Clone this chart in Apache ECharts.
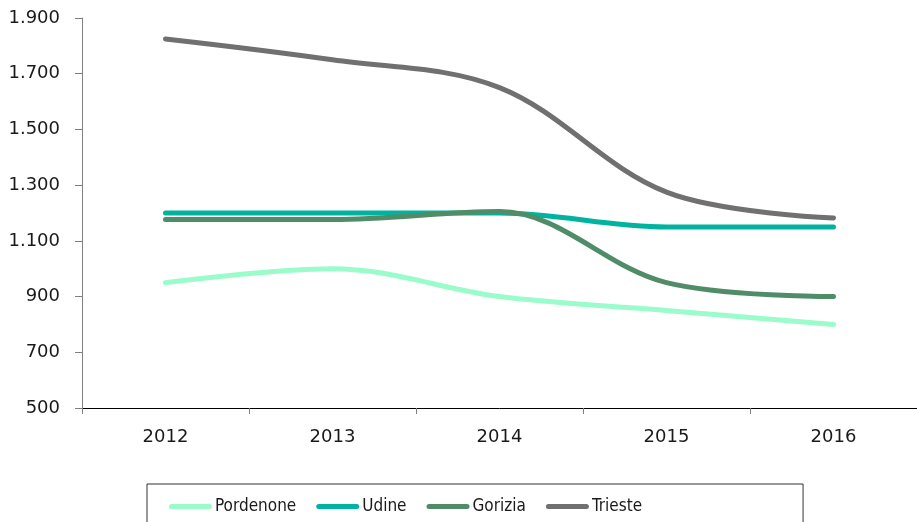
<!DOCTYPE html>
<html>
<head>
<meta charset="utf-8">
<script src="https://cdn.jsdelivr.net/npm/echarts@6/dist/echarts.min.js"></script>
<style>
html,body{margin:0;padding:0;background:#fff;}
#c{width:917px;height:522px;}
</style>
</head>
<body>
<div id="c"></div>
<script>
const years = ['2012', '2013', '2014', '2015', '2016'];
const pordenone = [950, 1000, 900, 850, 800];
const udine = [1200, 1200, 1200, 1150, 1150];
const gorizia = [1177, 1177, 1205, 950, 900];
const trieste = [1825, 1750, 1650, 1275, 1182];
const seriesNames = ['Pordenone', 'Udine', 'Gorizia', 'Trieste'];
const colors = ['#9bfccb', '#00b3a0', '#508c68', '#707070'];
const dataSets = [pordenone, udine, gorizia, trieste];

function fmt(v) {
  return String(v).replace(/\B(?=(\d{3})+(?!\d))/g, '.');
}

const pill = 'path://M2.5,0 L40.5,0 A2.5,2.5 0 0 1 40.5,5 L2.5,5 A2.5,2.5 0 0 1 2.5,0 Z';

const chart = echarts.init(document.getElementById('c'), null, {renderer: 'canvas'});
chart.setOption({
  animation: false,
  grid: {left: 82, right: -5, top: 18, bottom: 114, containLabel: false},
  xAxis: {
    type: 'category',
    data: years,
    boundaryGap: true,
    axisLine: {show: true, lineStyle: {color: '#000', width: 1}},
    axisTick: {show: true, length: 6, alignWithLabel: false, lineStyle: {color: '#808080'}},
    axisLabel: {margin: 20, color: '#1a1a1a', fontFamily: 'DejaVu Sans', fontSize: 18},
    splitLine: {show: false}
  },
  yAxis: {
    type: 'value',
    min: 500, max: 1900, interval: 200,
    axisLine: {show: true, lineStyle: {color: '#808080', width: 1}},
    axisTick: {show: true, length: 7, inside: false, lineStyle: {color: '#808080'}},
    axisLabel: {margin: 22, color: '#1a1a1a', fontFamily: 'DejaVu Sans', fontSize: 18, formatter: fmt},
    splitLine: {show: false}
  },
  legend: {
    top: 484,
    left: 147,
    orient: 'horizontal',
    padding: [14, 161, 20, 22],
    borderColor: '#333',
    borderWidth: 1,
    itemWidth: 43,
    itemHeight: 5,
    itemGap: 20,
    icon: pill,
    textStyle: {fontFamily: "'DejaVu Sans Condensed', 'Liberation Sans Narrow', 'Liberation Sans'", fontSize: 17, color: '#1a1a1a', padding: [0, 0, 0, -2]},
    data: seriesNames
  },
  series: seriesNames.map((n, i) => ({
    name: n,
    type: 'line',
    data: dataSets[i],
    smooth: 0.35,
    symbol: 'none',
    color: colors[i],
    itemStyle: {color: colors[i]},
    lineStyle: {width: 5, color: colors[i], cap: 'round', join: 'round'}
  }))
});
</script>
</body>
</html>
